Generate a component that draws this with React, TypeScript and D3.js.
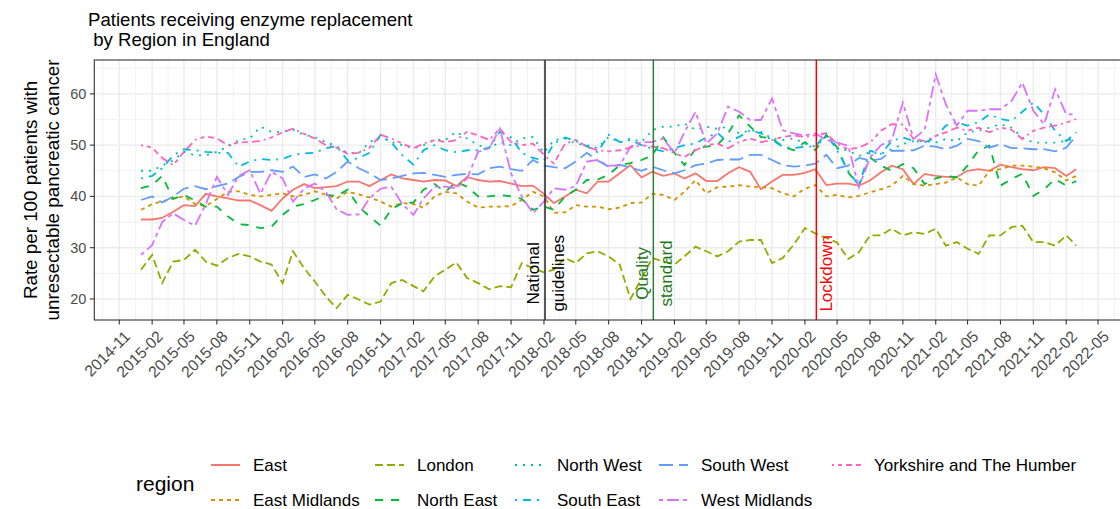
import React from 'react'
import * as d3 from 'd3'

// monthly rates, first point 2015-01, last 2022-03
const regions = [
  'East',
  'East Midlands',
  'London',
  'North East',
  'North West',
  'South East',
  'South West',
  'West Midlands',
  'Yorkshire and The Humber',
]

const east = [
  35.5, 35.5, 35.8, 37.0, 38.3, 38.1, 40.5, 40.0, 39.6, 39.2, 39.2, 38.3, 37.2, 39.6, 41.3, 42.4, 41.6, 41.8, 42.0, 42.9, 42.9, 42.0,
  43.2, 44.3, 43.5, 43.2, 42.9, 43.2, 43.1, 42.0, 43.8, 43.2, 42.9, 43.0, 42.5, 42.0, 42.1, 40.5, 38.7, 40.0, 41.3, 40.6, 42.9,
  42.9, 44.5, 46.1, 43.7, 44.8, 44.0, 44.5, 43.5, 44.5, 43.0, 43.0, 44.5, 45.7, 44.8, 41.4, 42.9, 44.2, 44.2, 44.6, 45.3, 42.2, 42.5,
  42.5, 42.1, 43.1, 44.7, 46.0, 45.3, 42.4, 44.4, 44.0, 43.8, 43.8, 45.0, 45.3, 45.0, 46.2, 45.7, 45.3, 45.1, 45.7, 45.5, 44.0, 45.3,
]
const eastMidlands = [
  37.4, 38.5, 39.0, 39.6, 40.0, 38.5, 38.1, 39.5, 40.9, 41.0, 40.3, 40.0, 40.3, 40.6, 40.0, 40.3, 41.0, 40.3, 39.6, 40.9, 40.4, 39.8,
  39.0, 38.0, 38.7, 38.5, 37.8, 40.0, 40.9, 40.6, 39.0, 37.8, 38.0, 38.0, 38.1, 39.3, 40.9, 40.0, 36.8, 36.9, 38.3, 38.0, 38.0,
  37.5, 37.8, 38.7, 38.8, 40.5, 40.3, 39.3, 40.9, 43.2, 40.6, 41.8, 41.9, 42.2, 41.9, 41.8, 41.6, 40.6, 40.0, 41.5, 42.2, 40.0, 40.3,
  39.8, 40.1, 40.8, 41.4, 42.1, 44.0, 42.4, 42.1, 42.4, 42.7, 43.7, 42.4, 42.1, 45.0, 45.3, 46.0, 46.0, 45.8, 45.5, 44.7, 43.1, 44.0,
]
const london = [
  25.7, 28.6, 23.1, 27.3, 27.6, 29.6, 27.3, 26.5, 28.0, 28.8, 28.3, 27.3, 26.7, 23.1, 29.3, 26.0, 23.4, 20.5, 18.2, 20.8, 19.9, 18.9,
  19.5, 23.1, 23.7, 22.5, 21.5, 24.4, 25.7, 27.1, 24.1, 23.1, 21.9, 22.5, 22.3, 27.0, 26.0, 25.2, 25.7, 28.0, 27.0, 28.9, 29.3, 28.3,
  26.7, 20.0, 24.0, 28.0, 27.3, 26.7, 28.3, 30.2, 29.3, 28.3, 29.3, 31.2, 31.5, 31.5, 27.0, 28.0, 30.6, 33.8, 32.8, 31.9, 31.0,
  27.8, 29.1, 32.4, 32.4, 33.7, 32.4, 33.0, 32.7, 33.7, 30.4, 31.1, 29.8, 28.8, 32.4, 32.4, 34.0, 34.3, 31.1, 31.1, 30.4, 32.4, 30.4,
]
const northEast = [
  41.6, 42.2, 44.0, 39.5, 40.3, 39.2, 38.0, 38.0, 36.1, 34.6, 34.4, 33.8, 34.1, 36.4, 38.0, 38.5, 39.3, 40.3, 40.1, 41.3, 38.0, 36.1,
  34.3, 37.5, 38.7, 38.8, 41.3, 42.4, 40.9, 42.8, 41.9, 40.0, 40.0, 40.3, 40.0, 39.5, 37.4, 38.0, 37.4, 40.0, 41.3, 43.2, 43.3, 44.2,
  46.1, 46.5, 47.1, 48.0, 51.5, 48.5, 46.1, 49.3, 49.7, 50.0, 52.3, 55.8, 53.6, 51.6, 51.3, 49.7, 49.0, 50.6, 49.0, 52.0, 49.6,
  44.7, 42.1, 47.6, 46.0, 45.0, 46.3, 45.5, 42.4, 43.5, 44.0, 43.7, 46.0, 49.0, 49.9, 42.1, 43.4, 44.4, 40.1, 41.4, 43.4, 42.1, 43.0,
]
const northWest = [
  45.0, 45.0, 46.0, 47.0, 48.7, 48.0, 48.0, 48.7, 49.7, 51.0, 51.3, 53.6, 52.6, 52.6, 53.0, 52.0, 51.6, 50.6, 49.8, 48.5, 48.4, 50.6,
  51.6, 50.6, 50.0, 49.4, 50.0, 51.0, 51.0, 52.6, 51.3, 50.0, 49.4, 50.6, 50.0, 51.3, 51.6, 48.5, 51.0, 51.3, 50.3, 50.0, 49.4, 51.6,
  50.5, 51.3, 50.6, 52.9, 53.6, 53.6, 54.2, 53.0, 53.6, 53.2, 53.6, 52.3, 52.9, 52.6, 51.3, 51.0, 51.3, 50.3, 49.7, 51.6, 49.5,
  48.9, 47.9, 48.6, 48.3, 49.2, 50.2, 50.8, 50.8, 50.5, 51.2, 50.8, 52.5, 52.8, 53.4, 54.1, 53.4, 51.5, 50.5, 50.5, 50.5, 50.8, 51.5,
]
const southEast = [
  43.5, 44.0, 45.5, 48.0, 49.2, 49.0, 48.7, 48.5, 48.5, 45.8, 46.8, 47.3, 47.1, 47.3, 48.1, 48.4, 48.5, 49.4, 49.8, 47.0, 47.5, 48.5,
  52.0, 50.5, 48.0, 46.2, 49.0, 50.0, 49.0, 48.6, 49.0, 49.0, 49.5, 52.6, 51.5, 48.5, 47.5, 47.0, 50.3, 51.5, 50.8, 49.8, 48.6, 52.0,
  50.6, 51.0, 50.0, 49.3, 48.8, 49.4, 50.0, 50.3, 51.5, 52.4, 50.6, 51.6, 52.9, 52.3, 51.0, 49.7, 49.4, 49.7, 49.7, 52.3, 49.0,
  45.0, 42.1, 48.9, 48.3, 50.8, 51.5, 50.8, 50.5, 51.5, 53.8, 54.4, 53.8, 54.5, 56.0, 55.1, 54.7, 56.5, 58.3, 56.0, 52.8, 50.8, 52.5,
]
const southWest = [
  39.3, 40.0, 38.8, 40.0, 41.5, 42.0, 41.4, 42.0, 42.5, 43.8, 44.8, 44.8, 45.1, 44.8, 45.8, 43.8, 44.3, 43.5, 44.8, 46.8, 45.5, 44.5,
  43.2, 43.5, 44.0, 44.5, 44.6, 44.2, 43.8, 44.2, 44.4, 44.3, 45.5, 45.8, 45.3, 45.0, 47.1, 46.0, 45.7, 45.5, 46.8, 48.5, 47.0, 45.8,
  46.2, 45.6, 45.0, 45.8, 45.1, 44.5, 45.1, 46.1, 46.4, 47.1, 47.2, 47.2, 48.1, 48.1, 47.1, 46.1, 45.8, 46.0, 46.4, 48.1, 45.5,
  46.0, 47.5, 47.0, 47.3, 48.9, 48.9, 49.0, 49.9, 49.7, 49.2, 49.9, 51.2, 50.8, 49.5, 50.2, 49.4, 49.4, 49.2, 49.2, 48.8, 49.5, 51.8,
]
const westMidlands = [
  28.6, 30.5, 35.0, 36.7, 35.4, 34.3, 38.5, 43.8, 40.3, 44.0, 45.1, 40.5, 44.8, 43.5, 39.0, 41.5, 42.5, 40.9, 37.5, 36.4, 36.5, 39.6,
  41.5, 41.9, 38.5, 36.4, 39.6, 41.9, 41.9, 41.6, 43.5, 48.7, 49.4, 53.2, 44.5, 40.0, 36.7, 39.0, 41.6, 41.3, 42.0, 46.8, 47.1, 46.0,
  46.0, 49.7, 50.6, 50.6, 51.3, 48.4, 52.5, 56.5, 50.3, 52.3, 57.5, 56.5, 54.9, 54.9, 59.1, 52.9, 52.3, 51.9, 52.3, 51.0, 50.5,
  49.9, 41.8, 47.6, 50.0, 51.0, 58.3, 51.2, 53.0, 63.8, 58.0, 53.8, 56.7, 56.7, 57.0, 57.0, 58.6, 62.2, 56.7, 54.1, 60.9, 56.0, 56.0,
]
const yorkshire = [
  50.0, 49.5, 47.5, 46.1, 48.7, 51.0, 51.7, 51.3, 50.0, 50.5, 50.6, 50.8, 51.5, 52.5, 53.2, 52.2, 51.3, 50.0, 49.5, 48.3, 48.5, 49.5,
  52.0, 51.3, 50.3, 49.4, 50.3, 51.0, 50.6, 51.0, 52.6, 51.9, 51.0, 53.2, 50.6, 50.0, 50.3, 48.1, 46.4, 50.3, 51.0, 49.7, 49.0, 48.8,
  49.0, 49.5, 50.0, 49.7, 49.4, 48.4, 47.7, 49.0, 50.0, 50.3, 49.4, 50.6, 51.3, 50.6, 51.0, 51.6, 51.9, 51.6, 51.9, 52.3, 50.2,
  49.2, 49.5, 50.5, 52.8, 54.1, 54.0, 51.2, 50.8, 51.8, 52.5, 53.4, 52.8, 53.4, 52.5, 53.4, 53.0, 51.2, 52.8, 53.4, 53.8, 54.4, 55.1,
]

const seriesValues = [east, eastMidlands, london, northEast, northWest, southEast, southWest, westMidlands, yorkshire]

const eventDates = ['2018-02-04', '2018-12-04', '2020-03-04']
const eventLabels = [['National', 'guidelines'], ['Quality', 'standard'], ['Lockdown']]
const eventLabelY = 25

const yTicks = [20, 30, 40, 50, 60]

// ggplot hue palette + default linetype sequence
const colors = ['#F8766D', '#D39200', '#93AA00', '#00BA38', '#00C19F', '#00B9E3', '#619CFF', '#DB72FB', '#FF61C3']
const dashes = ['', '4,4', '8,4', '8,8', '2,6', '2,6,8,6', '14,6', '4,4,12,4', '2,4,4,4,6,4,8,4']
const eventColors = ['#222222', '#2E7D32', '#FF0000']
const eventTextColors = ['#000000', '#1B7A1B', '#FF0000']
const eventOffsets = [[-12, 13], [-10.5, 13.5], [10]]

const W = 1120
const H = 509
const panel = { left: 94.3, right: 1123, top: 60, bottom: 320 }
const font = '"Liberation Sans", Arial, Helvetica, sans-serif'

const parse = d3.utcParse('%Y-%m-%d')
const start = new Date(Date.UTC(2015, 0, 1))
const months = east.map((_, i) => d3.utcMonth.offset(start, i))

export default function App() {
  const first = months[0]
  const last = months[months.length - 1]
  const span = +last - +first
  const x = d3
    .scaleUtc()
    .domain([new Date(+first - span * 0.05), new Date(+last + span * 0.05)])
    .range([panel.left, panel.right])
  const y = d3.scaleLinear().domain([15.9, 66.6]).range([panel.bottom, panel.top])

  const xTicks = d3.utcMonth.range(new Date(Date.UTC(2014, 10, 1)), new Date(Date.UTC(2022, 5, 1)), 3)
  const ext = d3.utcMonth.range(new Date(Date.UTC(2014, 7, 1)), new Date(Date.UTC(2022, 8, 1)), 3)
  const xMinor = d3
    .pairs(ext)
    .map(([a, b]) => new Date((+a + +b) / 2))
    .filter(d => x(d) > panel.left && x(d) < W)
  const yMinor = [25, 35, 45, 55, 65]
  const fmt = d3.utcFormat('%Y-%m')

  const line = d3
    .line<number>()
    .x((_, i) => x(months[i]))
    .y(d => y(d))

  const legendCols = [211, 375, 515, 659, 832]
  const legendRows = [465, 500]

  return (
    <svg
      width={W}
      height={H}
      style={{ position: 'absolute', left: 0, top: 0, background: '#fff', fontFamily: font }}
    >
      <defs>
        <clipPath id="panel">
          <rect x={panel.left} y={panel.top} width={panel.right - panel.left} height={panel.bottom - panel.top} />
        </clipPath>
      </defs>
      <rect width={W} height={H} fill="#fff" />

      {/* title */}
      <text x={88} y={26} fontSize={18.6} fill="#000">
        Patients receiving enzyme replacement
      </text>
      <text x={88} y={45.5} fontSize={18.6} fill="#000" style={{ whiteSpace: 'pre' }}>
        {' by Region in England'}
      </text>

      {/* grid */}
      <g clipPath="url(#panel)">
        {yMinor.map(v => (
          <line key={'ym' + v} x1={panel.left} x2={panel.right} y1={y(v)} y2={y(v)} stroke="#EBEBEB" strokeWidth={0.7} />
        ))}
        {xMinor.map(d => (
          <line key={'xm' + +d} x1={x(d)} x2={x(d)} y1={panel.top} y2={panel.bottom} stroke="#EBEBEB" strokeWidth={0.7} />
        ))}
        {yTicks.map(v => (
          <line key={'y' + v} x1={panel.left} x2={panel.right} y1={y(v)} y2={y(v)} stroke="#EBEBEB" strokeWidth={1.4} />
        ))}
        {xTicks.map(d => (
          <line key={'x' + +d} x1={x(d)} x2={x(d)} y1={panel.top} y2={panel.bottom} stroke="#EBEBEB" strokeWidth={1.4} />
        ))}

        {/* series */}
        {seriesValues.map((vals, k) => (
          <path
            key={regions[k]}
            d={line(vals) || ''}
            fill="none"
            stroke={colors[k]}
            strokeWidth={1.8}
            strokeDasharray={dashes[k] || undefined}
          />
        ))}

        {/* events */}
        {eventDates.map((ds, k) => {
          const ex = x(parse(ds) as Date)
          return (
            <g key={ds}>
              <line x1={ex} x2={ex} y1={panel.top} y2={panel.bottom} stroke={eventColors[k]} strokeWidth={1.5} />
              {eventLabels[k].map((lab, j) => {
                const tx = ex + eventOffsets[k][j]
                const ty = y(eventLabelY)
                return (
                  <text
                    key={lab}
                    x={tx}
                    y={ty}
                    transform={`rotate(-90 ${tx} ${ty})`}
                    textAnchor="middle"
                    dominantBaseline="central"
                    fontSize={17}
                    fill={eventTextColors[k]}
                  >
                    {lab}
                  </text>
                )
              })}
            </g>
          )
        })}
      </g>

      {/* panel border */}
      <rect
        x={panel.left}
        y={panel.top}
        width={panel.right - panel.left}
        height={panel.bottom - panel.top}
        fill="none"
        stroke="#333333"
        strokeWidth={1.1}
      />

      {/* y axis */}
      {yTicks.map(v => (
        <g key={'yt' + v}>
          <line x1={panel.left - 4.5} x2={panel.left} y1={y(v)} y2={y(v)} stroke="#333333" strokeWidth={1.1} />
          <text x={panel.left - 8} y={y(v)} textAnchor="end" dominantBaseline="central" fontSize={14.5} fill="#4D4D4D">
            {v}
          </text>
        </g>
      ))}

      {/* x axis */}
      {xTicks.map(d => {
        const tx = x(d)
        const px = tx + 4
        const py = panel.bottom + 9.5
        return (
          <g key={'xt' + +d}>
            <line x1={tx} x2={tx} y1={panel.bottom} y2={panel.bottom + 4.5} stroke="#333333" strokeWidth={1.1} />
            <text
              x={px}
              y={py}
              transform={`rotate(-45 ${px} ${py})`}
              textAnchor="end"
              dominantBaseline="hanging"
              fontSize={15.8}
              fill="#4D4D4D"
            >
              {fmt(d)}
            </text>
          </g>
        )
      })}

      {/* y axis title */}
      {['Rate per 100 patients with', 'unresectable pancreatic cancer'].map((t, j) => {
        const tx = 30 + j * 22
        const ty = (panel.top + panel.bottom) / 2
        return (
          <text
            key={t}
            x={tx}
            y={ty}
            transform={`rotate(-90 ${tx} ${ty})`}
            textAnchor="middle"
            dominantBaseline="central"
            fontSize={18.8}
            fill="#000"
          >
            {t}
          </text>
        )
      })}

      {/* legend */}
      <text x={136} y={483} dominantBaseline="central" fontSize={21} fill="#000">
        region
      </text>
      {regions.map((r, k) => {
        const lx = legendCols[Math.floor(k / 2)]
        const ly = legendRows[k % 2]
        return (
          <g key={'lg' + r}>
            <line
              x1={lx}
              x2={lx + 29}
              y1={ly}
              y2={ly}
              stroke={colors[k]}
              strokeWidth={2}
              strokeDasharray={dashes[k] || undefined}
            />
            <text x={lx + 42} y={ly} dominantBaseline="central" fontSize={17} fill="#000">
              {r}
            </text>
          </g>
        )
      })}
    </svg>
  )
}
